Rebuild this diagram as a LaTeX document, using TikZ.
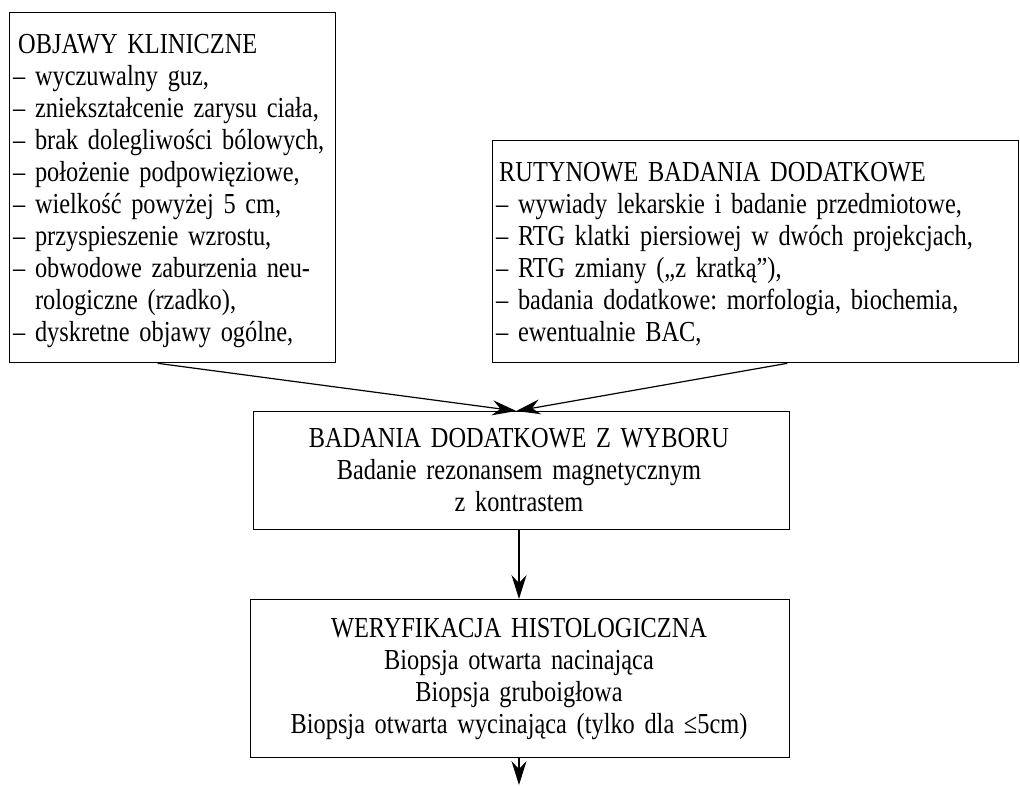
\documentclass[tikz,border=0pt]{standalone}
\usepackage{fontspec}
\setmainfont{Liberation Serif}[FakeStretch=0.84]
\usetikzlibrary{arrows.meta,calc}
% box text font with tight interword spacing
\newcommand{\boxfont}{\fontsize{29}{32.1}\selectfont
  \fontdimen2\font=4.8pt \fontdimen3\font=2.5pt \fontdimen4\font=1pt }

\begin{document}
\frenchspacing
\begin{tikzpicture}[x=1pt,y=-1pt,
  frame/.style={draw=black,line width=1.3pt,inner sep=0pt,anchor=north west},
  txt/.style={inner sep=0pt,font=\boxfont},
  leftlist/.style={txt,align=left,anchor=base west},
  midlist/.style={txt,align=center,anchor=base},
  arr/.style={line width=1.2pt,-{Stealth[length=24pt,width=15pt,inset=8pt]}}]
\useasboundingbox (0,0) rectangle (1020,785);

% boxes
\node[frame,minimum width=326pt,minimum height=350pt] (objawy) at (9,12) {};
\node[frame,minimum width=526pt,minimum height=222pt] (rutyna) at (492,140) {};
\node[frame,minimum width=536pt,minimum height=118pt] (wybor) at (253,411) {};
\node[frame,minimum width=539pt,minimum height=158pt] (weryf) at (250,599) {};

% box texts
\node[leftlist,text width=317pt] (objawyTxt) at (13,53) {%
  \hspace*{5pt}OBJAWY KLINICZNE\\
  – wyczuwalny guz,\\
  – zniekształcenie zarysu ciała,\\
  – brak dolegliwości bólowych,\\
  – położenie podpowięziowe,\\
  – wielkość powyżej 5 cm,\\
  – przyspieszenie wzrostu,\\
  \makebox[\linewidth][s]{– obwodowe zaburzenia neu-}\\
  \hphantom{– }rologiczne (rzadko),\\
  – dyskretne objawy ogólne,};

\node[leftlist,text width=515pt] (rutynaTxt) at (496,181.2) {%
  \hspace*{3pt}RUTYNOWE BADANIA DODATKOWE\\
  – wywiady lekarskie i badanie przedmiotowe,\\
  – RTG klatki piersiowej w dwóch projekcjach,\\
  – RTG zmiany („z kratką”),\\
  – badania dodatkowe: morfologia, biochemia,\\
  – ewentualnie BAC,};

\node[midlist,text width=530pt] (wyborTxt) at (519,447.5) {%
  BADANIA DODATKOWE Z WYBORU\\
  Badanie rezonansem magnetycznym\\
  z kontrastem};

\node[midlist,text width=530pt] (weryfTxt) at (519,637.5) {%
  WERYFIKACJA HISTOLOGICZNA\\
  Biopsja otwarta nacinająca\\
  Biopsja gruboigłowa\\
  Biopsja otwarta wycinająca (tylko dla ≤5cm)};

% connectors
\coordinate (zbieg) at ($(wybor.north west)!0.49!(wybor.north east)$);
\coordinate (dalej) at (519,785);
\draw[arr] ($(objawy.south west)!0.454!(objawy.south east)$) -- (zbieg);
\draw[arr] ($(rutyna.south west)!0.56!(rutyna.south east)$) -- (zbieg);
\draw[arr] (wybor.south -| dalej) -- (weryf.north -| dalej);
\draw[arr] (weryf.south -| dalej) -- (dalej);
\end{tikzpicture}
\end{document}
